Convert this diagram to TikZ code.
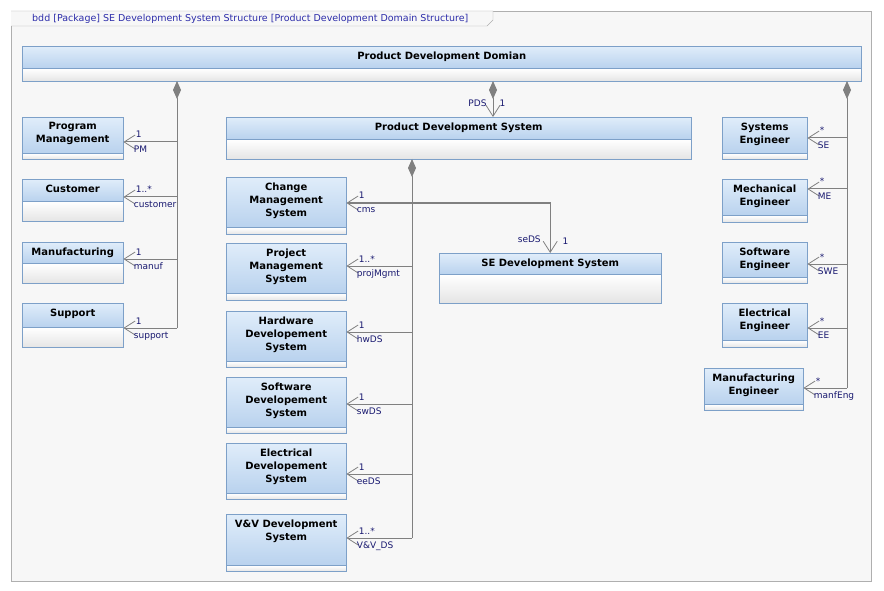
\documentclass[tikz,border=0pt]{standalone}
\usepackage{fontspec}
\setmainfont{DejaVu Sans}
\usetikzlibrary{arrows.meta}
\definecolor{framebg}{RGB}{247,247,247}
\definecolor{framegray}{RGB}{175,175,175}
\definecolor{titleblue}{RGB}{45,45,170}
\definecolor{labelnavy}{RGB}{25,25,112}
\definecolor{linegray}{RGB}{128,128,128}
\definecolor{blockline}{RGB}{125,160,200}
\definecolor{headtop}{RGB}{224,237,250}
\definecolor{headbot}{RGB}{185,210,238}
\definecolor{compbot}{RGB}{228,228,228}
\tikzset{
  blockhead/.style={draw=blockline, top color=headtop, bottom color=headbot, rectangle, inner sep=0pt, anchor=north west},
  blockcomp/.style={draw=blockline, top color=white, bottom color=compbot, rectangle, inner sep=0pt, anchor=north},
  blocktext/.style={font=\bfseries\fontsize{10}{13}\selectfont, align=center, inner sep=0pt, anchor=north},
  comp/.style={draw=linegray, line width=1pt, {Diamond[length=18pt,width=8pt,fill=linegray]}-},
  assoc/.style={draw=linegray, line width=1pt, -{Straight Barb[length=11pt,width=14pt,line width=0.8pt]}},
  compassoc/.style={draw=linegray, line width=1pt, {Diamond[length=18pt,width=8pt,fill=linegray]}-{Straight Barb[length=11pt,width=14pt,line width=0.8pt]}},
  biassoc/.style={draw=linegray, line width=1pt, {Straight Barb[length=11pt,width=14pt,line width=0.8pt]}-{Straight Barb[length=11pt,width=14pt,line width=0.8pt]}},
  lbl/.style={font=\fontsize{9}{11}\selectfont, text=labelnavy, inner sep=1pt},
  mult/.style={lbl, anchor=south west, xshift=11pt, yshift=2.5pt},
  role/.style={lbl, anchor=north west, xshift=9pt, yshift=-2.5pt}
}
% block = header + compartment
\newcommand\umlblock[7]{%
  \node[blockhead, minimum width=#4pt, minimum height=#5pt] (#1) at (#2,#3) {};
  \node[blockcomp, minimum width=#4pt, minimum height=#6pt] (#1-c) at (#1.south) {};
  \node[blocktext] (#1-t) at ([yshift=-5.5pt]#1.north) {#7};
}
\begin{document}
\begin{tikzpicture}[x=1pt,y=-1pt]
\useasboundingbox (0,0) rectangle (884,591);
\fill[white] (0,0) rectangle (884,591);
% frame
\draw[framegray, fill=framebg] (11,11) rectangle (871,581);
\draw[framegray, fill=framebg] (11,11) -- (493,11) -- (493,20) -- (487,26) -- (11,26);
\node[font=\fontsize{9.5}{11}\selectfont, text=titleblue, anchor=base west, inner sep=0pt] (title) at (32,22)
  {bdd [Package] SE Development System Structure [Product Development Domain Structure]};
% blocks
\umlblock{pdd}{22}{46}{839}{22}{13}{Product Development Domian}
\umlblock{pm}{22}{117}{101}{36}{6}{Program\\Management}
\umlblock{cust}{22}{179}{101}{22}{20}{Customer}
\umlblock{manu}{22}{242}{101}{21}{20}{Manufacturing}
\umlblock{supp}{22}{303}{101}{24}{20}{Support}
\umlblock{pds}{226}{117}{465}{22}{20}{Product Development System}
\umlblock{cms}{226}{177}{120}{50}{7}{Change\\Management\\System}
\umlblock{pms}{226}{243}{120}{50}{7}{Project\\Management\\System}
\umlblock{hwds}{226}{311}{120}{50}{6}{Hardware\\Developement\\System}
\umlblock{swds}{226}{377}{120}{50}{6}{Software\\Developement\\System}
\umlblock{eeds}{226}{443}{120}{50}{6}{Electrical\\Developement\\System}
\umlblock{vvds}{226}{514}{120}{51}{6}{V\&V Development\\System}
\umlblock{seds}{439}{253}{222}{21}{29}{SE Development System}
\umlblock{se}{722}{117}{85}{36}{6}{Systems\\Engineer}
\umlblock{me}{722}{179}{85}{36}{7}{Mechanical\\Engineer}
\umlblock{swe}{722}{242}{85}{35}{6}{Software\\Engineer}
\umlblock{ee}{722}{303}{85}{37}{7}{Electrical\\Engineer}
\umlblock{mfe}{704}{368}{99}{36}{6}{Manufacturing\\Engineer}
% left composition
\coordinate (lb0) at (177,81);
\foreach \n/\yy/\m/\r in {pm/142/1/PM, cust/197/{1..*}/customer, manu/259/1/manuf, supp/328/1/support}{
  \coordinate (lb-\n) at (177,\yy);
  \draw[assoc] (lb-\n) -- (\n.east |- lb-\n) node[mult] (\n-m) {\m} node[role] (\n-r) {\r};
}
\draw[comp] (lb0) -- (lb-supp);
% right composition
\coordinate (rb0) at (847,81);
\foreach \n/\yy/\r in {se/138/SE, me/189/ME, swe/264/SWE, ee/328/EE, mfe/388/manfEng}{
  \coordinate (rb-\n) at (847,\yy);
  \draw[assoc] (rb-\n) -- (\n.east |- rb-\n) node[mult] (\n-m) {*} node[role] (\n-r) {\r};
}
\draw[comp] (rb0) -- (rb-mfe);
% centre composition
\coordinate (cb0) at (412,159);
\foreach \n/\yy/\m/\r in {pms/266/{1..*}/projMgmt, hwds/332/1/hwDS, swds/404/1/swDS, eeds/474/1/eeDS, vvds/538/{1..*}/{V\&V\_DS}}{
  \coordinate (cb-\n) at (412,\yy);
  \draw[assoc] (cb-\n) -- (\n.east |- cb-\n) node[mult] (\n-m) {\m} node[role] (\n-r) {\r};
}
\draw[comp] (cb0) -- (cb-vvds);
% domain to system
\coordinate (pb0) at (493,81);
\draw[compassoc] (pb0) -- (pb0 |- pds.north)
  node[lbl, anchor=south east, xshift=-5pt, yshift=9pt] (pds-r) {PDS}
  node[lbl, anchor=south west, xshift=5pt, yshift=9pt] (pds-m) {1};
% change management to SE development
\coordinate (cmsy) at (412,203);
\draw[biassoc]
  (cms.east |- cmsy) node[mult] (cms-m) {1} node[role] (cms-r) {cms}
  -| (seds.north)
  node[lbl, anchor=south east, xshift=-8pt, yshift=9pt] (seds-r) {seDS}
  node[lbl, anchor=south west, xshift=11pt, yshift=7pt] (seds-m) {1};
\end{tikzpicture}
\end{document}
